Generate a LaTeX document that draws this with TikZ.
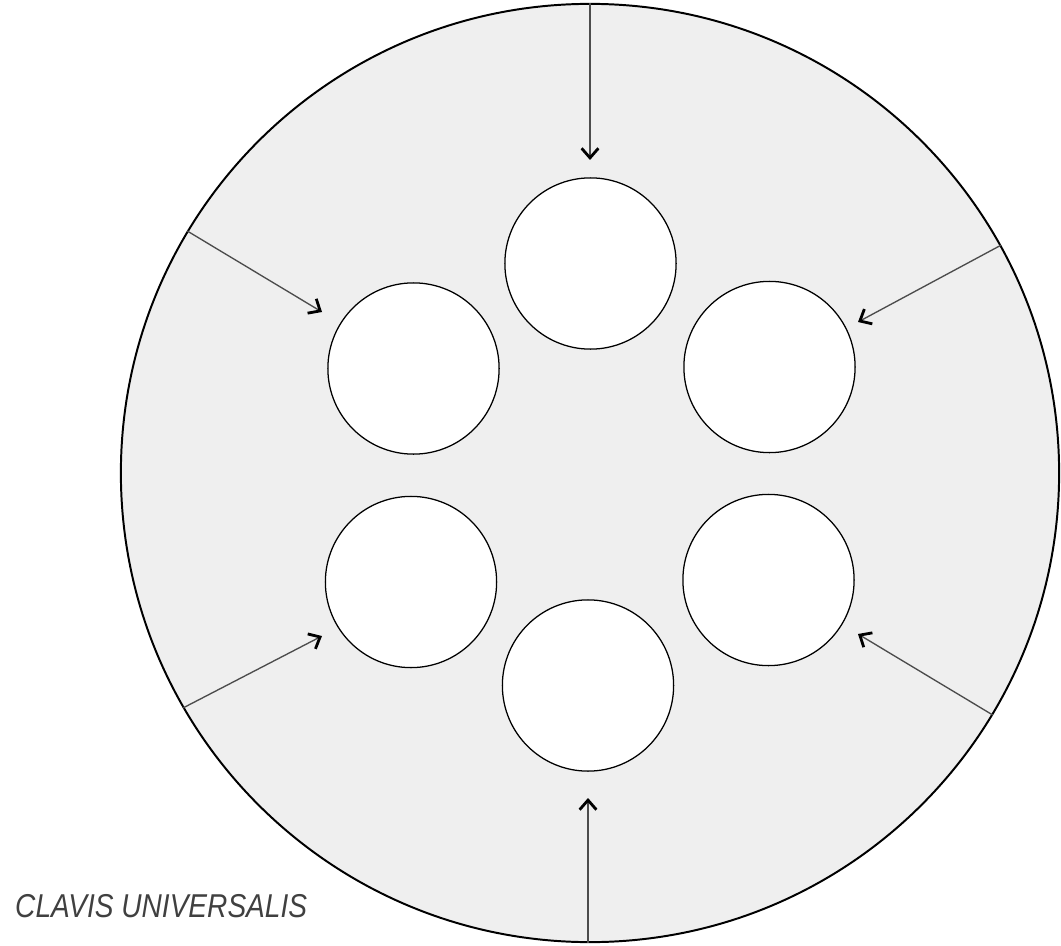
\documentclass[tikz,border=0pt]{standalone}
\usepackage{fontspec}
\setmainfont{Liberation Sans}
\usetikzlibrary{arrows.meta}
\definecolor{discgray}{RGB}{239,239,239}
\tikzset{hole/.style = {draw, fill=white, circle, line width=0.9pt,
                        minimum size=4.28cm, inner sep=0}}
\tikzset{push/.style = {line width=0.95pt, draw=black!70,
                        -{Straight Barb[length=2.4mm, width=4.2mm, line width=2pt, black]}}}
\begin{document}
\begin{tikzpicture}[x={(0.025cm,0)}, y={(0,-0.025cm)}]
    \useasboundingbox (0,0) rectangle (1061,946);
    \node[draw, circle, fill=discgray, line width=1.4pt, minimum size=23.45cm,
          inner sep=0] (disc) at (590,473){};
    \node[hole] (top) at (590.5,263.5){};
    \node[hole] (upright) at (769.5,367){};
    \node[hole] (downright) at (768.5,580){};
    \node[hole] (bottom) at (588,685.5){};
    \node[hole] (downleft) at (411,582){};
    \node[hole] (upleft) at (413.5,368.5){};
    \coordinate (ttop) at (590,160);
    \coordinate (tupright) at (858,322);
    \coordinate (tdownright) at (858,634);
    \coordinate (tbottom) at (588,798);
    \coordinate (tdownleft) at (322,636);
    \coordinate (tupleft) at (322,312);
    \draw[push] (disc.north) -- (ttop);
    \draw[push] (disc.29.5) -- (tupright);
    \draw[push] (disc.-31) -- (tdownright);
    \draw[push] (tbottom |- disc.south) -- (tbottom);
    \draw[push] (disc.210.8) -- (tdownleft);
    \draw[push] (disc.149.4) -- (tupleft);
    \node[anchor=base west, inner sep=0, xscale=0.85,
          font=\itshape\fontsize{23.5}{28}\selectfont, text=black!75]
          (title) at (15,917) {CLAVIS UNIVERSALIS};
\end{tikzpicture}
\end{document}
